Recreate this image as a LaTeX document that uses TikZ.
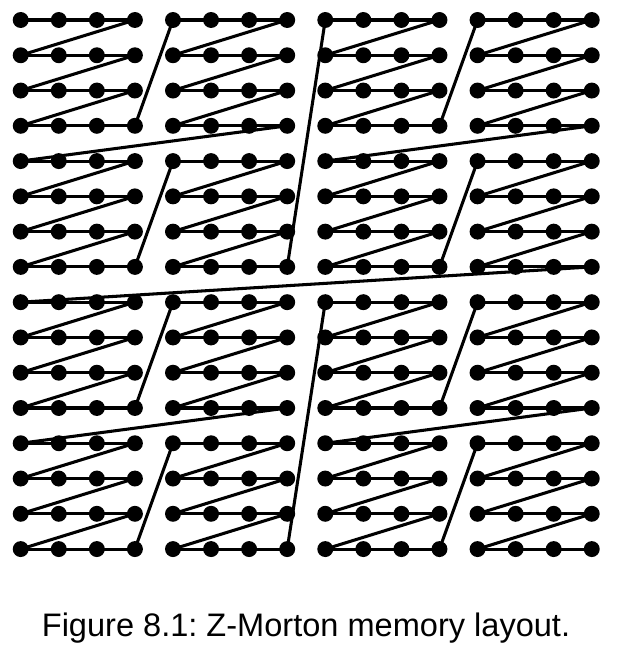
\documentclass[tikz,border=0pt]{standalone}
\usepackage{fontspec}
\setmainfont{Liberation Sans}
\usetikzlibrary{positioning}

\begin{document}
\begin{tikzpicture}[
			x=1.007cm, y=-0.933cm,
			dot/.style={circle, fill=black, inner sep=0pt, minimum size=12pt},
			link/.style={line width=2.3pt, black}
			]
			
			\useasboundingbox (-0.544,-0.567) rectangle (15.742,18.40);
			
			\foreach \col in {0,...,15}
				\foreach \row in {0,...,15}
					\node[dot] (p-\col-\row) at (\col,\row) {};
			
			% blocks in Z order, row-major inside each block
			\gdef\prev{}
			\foreach \Y/\X in {0/0,0/1,1/0,1/1}
				\foreach \y/\x in {0/0,0/1,1/0,1/1}
					\foreach \r in {0,...,3}
						\foreach \c in {0,...,3} {
							\pgfmathtruncatemacro{\col}{8*\X+4*\x+\c}
							\pgfmathtruncatemacro{\row}{8*\Y+4*\y+\r}
							\ifx\prev\empty\else
								\draw[link] (\prev.center) -- (p-\col-\row.center);
							\fi
							\xdef\prev{p-\col-\row}
						}
			
			\node[font=\fontsize{24.5}{29}\selectfont, anchor=base] (caption) at (7.494,17.49) {\frenchspacing Figure 8.1: Z-Morton memory layout.};
		\end{tikzpicture}
\end{document}
